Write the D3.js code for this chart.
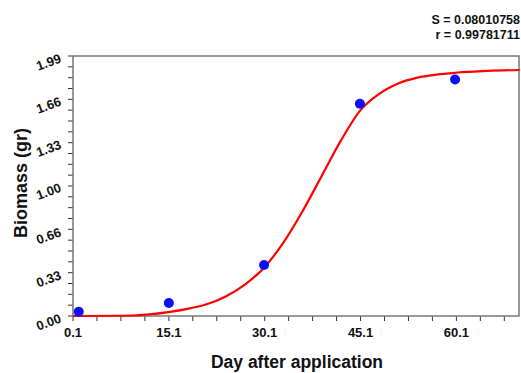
<!DOCTYPE html>
<html>
<head>
<meta charset="utf-8">
<script src="https://cdn.jsdelivr.net/npm/d3@7"></script>
<style>
  body { margin: 0; background: #fff; }
  text { font-family: "Liberation Sans", Arial, sans-serif; font-weight: bold; fill: #111; }
</style>
</head>
<body>
<svg id="chart" width="521" height="373"></svg>
<script>
// observed points
const obsDays = [1.0, 15.1, 30.0, 45.0, 59.9];
const obsBiomass = [0.033, 0.10, 0.39, 1.625, 1.81];

// fitted curve
const fitDays = [0.1, 8, 12, 15, 18, 21, 24, 27, 30, 33, 36, 39, 42, 45, 48, 51, 54, 57, 60, 65, 70];
const fitBiomass = [0, 0.002, 0.012, 0.03, 0.055, 0.09, 0.15, 0.24, 0.37, 0.56, 0.80, 1.07, 1.34, 1.57, 1.70, 1.78, 1.825, 1.848, 1.862, 1.876, 1.883];

const xTicks = [0.1, 15.1, 30.1, 45.1, 60.1];
const yTicks = [0.00, 0.33, 0.66, 1.00, 1.33, 1.66, 1.99];
const statLines = ["S = 0.08010758", "r = 0.99781711"];

const svg = d3.select("#chart");
const plot = { left: 73, right: 519, top: 56, bottom: 316 };
const axisColor = "#777";

const x = d3.scaleLinear().domain([0.1, 69.9]).range([plot.left, plot.right]);
const y = d3.scaleLinear().domain([0, 1.99]).range([plot.bottom, plot.top]);

// minor ticks
const xMinor = d3.range(0.1, 69.9, 3.75);
const yMinor = d3.range(0, 1.99 + 1e-6, 1.99 / 24);

svg.append("g").selectAll("line").data(xMinor).join("line")
  .attr("x1", d => x(d)).attr("x2", d => x(d))
  .attr("y1", plot.bottom).attr("y2", plot.bottom + 5)
  .attr("stroke", "#333").attr("stroke-width", 1);

svg.append("g").selectAll("line").data(yMinor).join("line")
  .attr("x1", plot.left - 5).attr("x2", plot.left)
  .attr("y1", d => y(d)).attr("y2", d => y(d))
  .attr("stroke", "#333").attr("stroke-width", 1);

// frame
svg.append("rect")
  .attr("x", plot.left).attr("y", plot.top)
  .attr("width", plot.right - plot.left).attr("height", plot.bottom - plot.top)
  .attr("fill", "none").attr("stroke", axisColor).attr("stroke-width", 1.5);

// x tick labels
svg.append("g").selectAll("text").data(xTicks).join("text")
  .attr("x", d => x(d)).attr("y", 337)
  .attr("text-anchor", "middle")
  .style("font-size", "13px")
  .text(d => d.toFixed(1));

// y tick labels, slanted
svg.append("g").selectAll("text").data(yTicks).join("text")
  .attr("transform", d => `translate(62,${y(d) + 6}) rotate(-20)`)
  .attr("text-anchor", "end")
  .style("font-size", "13px")
  .text(d => d.toFixed(2));

// axis titles
svg.append("text")
  .attr("x", 297).attr("y", 368)
  .attr("text-anchor", "middle")
  .style("font-size", "17.5px")
  .text("Day after application");

svg.append("text")
  .attr("transform", "translate(27,183) rotate(-90)")
  .attr("text-anchor", "middle")
  .style("font-size", "18px")
  .text("Biomass (gr)");

// stats
svg.append("g").selectAll("text").data(statLines).join("text")
  .attr("x", 520).attr("y", (d, i) => 24 + i * 15)
  .attr("text-anchor", "end")
  .style("font-size", "12.5px")
  .text(d => d);

// fitted curve
const line = d3.line()
  .x(d => x(d[0])).y(d => y(d[1]))
  .curve(d3.curveMonotoneX);

svg.append("path")
  .datum(fitDays.map((d, i) => [d, fitBiomass[i]]))
  .attr("d", line)
  .attr("fill", "none")
  .attr("stroke", "#ff0000")
  .attr("stroke-width", 2.2);

// points
svg.append("g").selectAll("circle").data(obsDays).join("circle")
  .attr("cx", d => x(d))
  .attr("cy", (d, i) => y(obsBiomass[i]))
  .attr("r", 5)
  .attr("fill", "#0a10f5");
</script>
</body>
</html>
